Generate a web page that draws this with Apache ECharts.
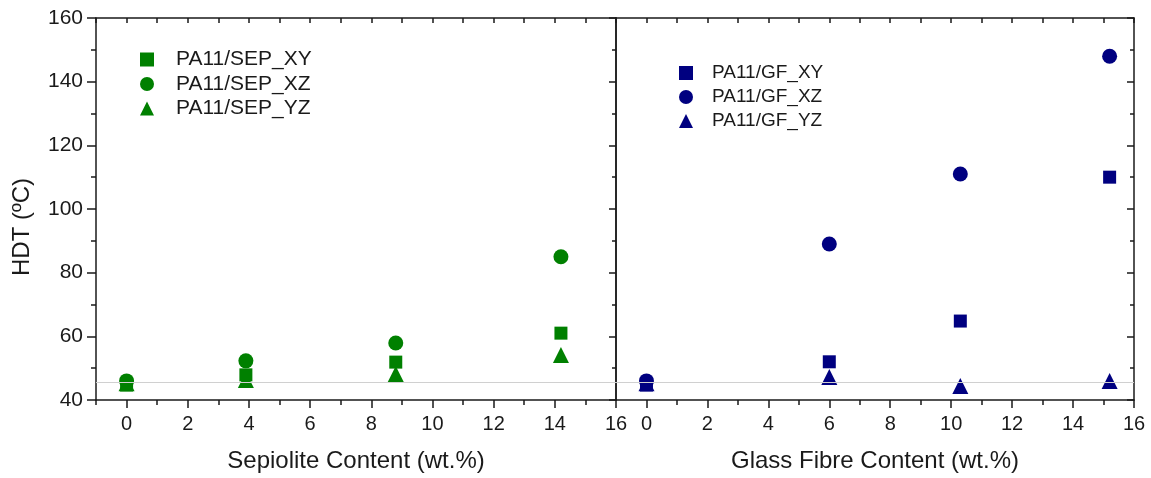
<!DOCTYPE html>
<html>
<head>
<meta charset="utf-8">
<script src="https://cdn.jsdelivr.net/npm/echarts@6/dist/echarts.min.js"></script>
<style>
  html, body { margin: 0; padding: 0; background: #fff; }
  #chart { width: 1151px; height: 478px; }
</style>
</head>
<body>
<div id="chart"></div>
<script>
// sepiolite panel
const sepContent = [0, 3.9, 8.8, 14.2];
const sepXY = [44.7, 47.9, 51.9, 61];
const sepXZ = [46, 52.3, 57.9, 85];
const sepYZ = [45.3, 46.3, 48.2, 54.1];
// glass fibre panel
const gfContent = [0, 6, 10.3, 15.2];
const gfXY = [44.7, 52, 64.8, 110];
const gfXZ = [46, 89, 111, 148];
const gfYZ = [45.3, 47.2, 44.4, 46];
// axis ticks
const xMajor = [0, 2, 4, 6, 8, 10, 12, 14, 16];
const baseLine = 45.7;

const FONT = "'Liberation Sans', Arial, sans-serif";
const GREEN = '#008000';
const NAVY = '#000080';
const INK = '#1a1a1a';

function pts(xs, ys) {
  return xs.map((x, i) => [x, ys[i]]);
}

const line = { show: true, onZero: false, lineStyle: { color: INK, width: 1.5 } };

function bottomAxis(grid, name) {
  return [
    {
      gridIndex: grid, type: 'value', position: 'bottom', min: -1, max: 16, interval: 1,
      axisLine: line,
      axisTick: { show: true, length: 5, lineStyle: { color: INK, width: 1.5 } },
      axisLabel: { show: true, customValues: xMajor, margin: 14, color: INK, fontSize: 20, fontFamily: FONT },
      splitLine: { show: false },
      name: name, nameLocation: 'middle', nameGap: 49,
      nameTextStyle: { color: INK, fontSize: 24, fontFamily: FONT }
    },
    {
      gridIndex: grid, type: 'value', position: 'bottom', min: -1, max: 16, interval: 1,
      axisLine: { show: false, onZero: false },
      axisTick: { show: true, customValues: xMajor, length: 8, lineStyle: { color: INK, width: 1.5 } },
      axisLabel: { show: false },
      splitLine: { show: false }
    },
    {
      gridIndex: grid, type: 'value', position: 'top', min: -1, max: 16, interval: 1,
      axisLine: line,
      axisTick: { show: true, inside: true, length: 5, lineStyle: { color: INK, width: 1.5 } },
      axisLabel: { show: false },
      splitLine: { show: false }
    }
  ];
}

function yAxis(grid, pos, opts) {
  return Object.assign({
    gridIndex: grid, type: 'value', position: pos, min: 40, max: 160, interval: 20,
    axisLine: line,
    axisTick: { show: true, inside: true, length: 7, lineStyle: { color: INK, width: 1.5 } },
    minorTick: { show: true, splitNumber: 2, length: 4, lineStyle: { color: INK, width: 1.5 } },
    axisLabel: { show: false },
    splitLine: { show: false }
  }, opts);
}

function scatter(name, xIdx, yIdx, data, symbol, size, color) {
  return {
    name: name, type: 'scatter', xAxisIndex: xIdx, yAxisIndex: yIdx,
    data: data, symbol: symbol, symbolSize: size,
    itemStyle: { color: color, opacity: 1 },
    z: 3
  };
}

function baseMark() {
  return {
    silent: true, symbol: 'none', label: { show: false },
    lineStyle: { color: '#d0d0d0', width: 1, type: 'solid' },
    data: [{ yAxis: baseLine }]
  };
}

const sepSeries = [
  scatter('PA11/SEP_XY', 0, 0, pts(sepContent, sepXY), 'rect', 13, GREEN),
  scatter('PA11/SEP_XZ', 0, 0, pts(sepContent, sepXZ), 'circle', 15, GREEN),
  scatter('PA11/SEP_YZ', 0, 0, pts(sepContent, sepYZ), 'triangle', 16, GREEN)
];
sepSeries[0].markLine = baseMark();

const gfSeries = [
  scatter('PA11/GF_XY', 3, 2, pts(gfContent, gfXY), 'rect', 13, NAVY),
  scatter('PA11/GF_XZ', 3, 2, pts(gfContent, gfXZ), 'circle', 15, NAVY),
  scatter('PA11/GF_YZ', 3, 2, pts(gfContent, gfYZ), 'triangle', 16, NAVY)
];
gfSeries[0].markLine = baseMark();

function legend(left, top, names, fontSize, gap, textPad) {
  return {
    orient: 'vertical', left: left, top: top, padding: 0, itemGap: gap,
    itemWidth: 14, itemHeight: 14, selectedMode: false,
    data: names,
    textStyle: { color: INK, fontSize: fontSize, fontFamily: FONT, padding: [0, 0, 0, textPad] }
  };
}

const chart = echarts.init(document.getElementById('chart'), null, { renderer: 'canvas' });
chart.setOption({
  backgroundColor: '#fff',
  animation: false,
  grid: [
    { left: 96, right: 535, top: 18, bottom: 77 },
    { left: 616, right: 17, top: 18, bottom: 77 }
  ],
  legend: [
    legend(140, 49, ['PA11/SEP_XY', 'PA11/SEP_XZ', 'PA11/SEP_YZ'], 21, 3.5, 17),
    legend(679, 63.5, ['PA11/GF_XY', 'PA11/GF_XZ', 'PA11/GF_YZ'], 19, 5, 14)
  ],
  xAxis: [].concat(
    bottomAxis(0, 'Sepiolite Content (wt.%)'),
    bottomAxis(1, 'Glass Fibre Content (wt.%)')
  ),
  yAxis: [
    yAxis(0, 'left', {
      axisTick: { show: true, inside: false, length: 9, lineStyle: { color: INK, width: 1.5 } },
      minorTick: { show: true, splitNumber: 2, length: 5, lineStyle: { color: INK, width: 1.5 } },
      axisLabel: { show: true, margin: 13, color: INK, fontSize: 21, fontFamily: FONT },
      name: 'HDT (ºC)', nameLocation: 'middle', nameGap: 62,
      nameTextStyle: { color: INK, fontSize: 24, fontFamily: FONT, padding: [0, 36, 0, 0] }
    }),
    yAxis(0, 'right'),
    yAxis(1, 'left', { axisTick: { show: false }, minorTick: { show: false } }),
    yAxis(1, 'right')
  ],
  series: sepSeries.concat(gfSeries)
});
</script>
</body>
</html>
